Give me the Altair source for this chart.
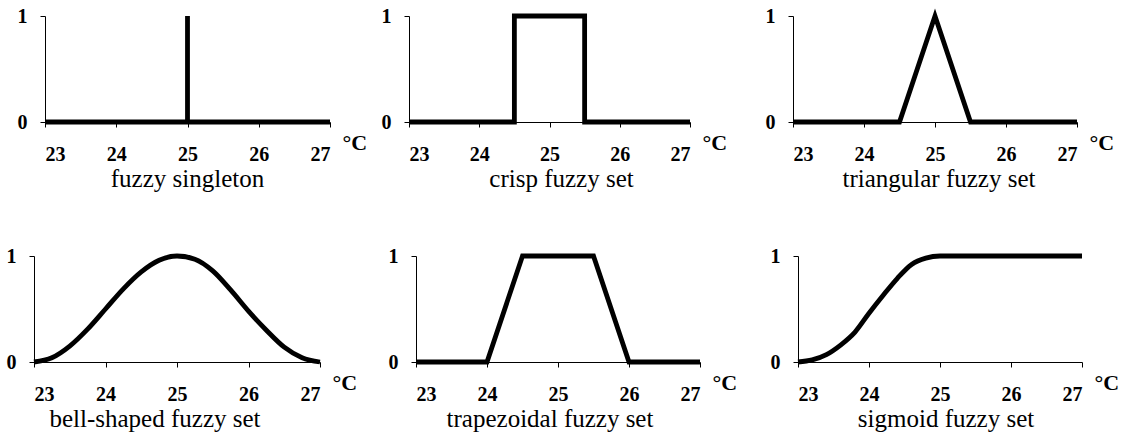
import altair as alt
import pandas as pd

# Membership functions over temperature (°C) -> membership degree
singleton_x = [23, 25, 25, 25, 27]
singleton_y = [0, 0, 1, 0, 0]

crisp_x = [23, 24.5, 24.5, 25.5, 25.5, 27]
crisp_y = [0, 0, 1, 1, 0, 0]

triangular_x = [23, 24.5, 25, 25.5, 27]
triangular_y = [0, 0, 1, 0, 0]

bell_x = [23, 23.25, 23.5, 23.75, 24, 24.25, 24.5, 24.75, 25,
          25.25, 25.5, 25.75, 26, 26.25, 26.5, 26.75, 27]
bell_y = [0, 0.04, 0.15, 0.31, 0.5, 0.69, 0.85, 0.96, 1,
          0.97, 0.86, 0.68, 0.48, 0.3, 0.14, 0.04, 0]

trapezoid_x = [23, 24, 24.5, 25.5, 26, 27]
trapezoid_y = [0, 0, 1, 1, 0, 0]

sigmoid_x = [23, 23.2, 23.4, 23.6, 23.8, 24, 24.2, 24.4, 24.6, 24.8, 25, 27]
sigmoid_y = [0, 0.02, 0.07, 0.16, 0.28, 0.46, 0.63, 0.79, 0.92, 0.98, 1, 1]

x_ticks = [23, 24, 25, 26, 27]
y_ticks = [0, 1]
unit_label = "°C"

SERIF = "Liberation Serif"
PANEL_H = 106

# spacing of tick labels, unit label and caption below each panel
LABEL_PAD = 17
UNIT_Y = 27
CAPTION_OFFSET = 3


def panel(xs, ys, caption, width, interp="linear", caption_dx=0):
    df = pd.DataFrame({"t": xs, "m": ys, "i": list(range(len(xs)))})
    return (
        alt.Chart(
            df,
            title=alt.TitleParams(
                caption, orient="bottom", anchor="middle",
                offset=CAPTION_OFFSET, dx=caption_dx,
                font=SERIF, fontSize=25, fontWeight="normal", color="black",
            ),
        )
        .mark_line(color="black", strokeWidth=4.8, interpolate=interp)
        .encode(
            x=alt.X(
                "t:Q",
                scale=alt.Scale(domain=[23, 27], nice=False, zero=False),
                axis=alt.Axis(
                    values=x_ticks, format="d", title=unit_label,
                    labelPadding=LABEL_PAD,
                    titleX=width + 12, titleY=UNIT_Y, titleAlign="left",
                    titleBaseline="alphabetic", titleAnchor="start",
                ),
            ),
            y=alt.Y(
                "m:Q",
                scale=alt.Scale(domain=[0, 1], nice=False),
                axis=alt.Axis(values=y_ticks, format="d", title=None,
                              labelPadding=13),
            ),
            order=alt.Order("i:Q"),
        )
        .properties(width=width, height=PANEL_H)
    )


spacer = (
    alt.Chart(pd.DataFrame({"v": [0]}))
    .mark_point(opacity=0)
    .encode(x=alt.X("v:Q", axis=None), y=alt.Y("v:Q", axis=None))
    .properties(width=1, height=1)
)

p1 = panel(singleton_x, singleton_y, "fuzzy singleton", 285)
p2 = panel(crisp_x, crisp_y, "crisp fuzzy set", 281, caption_dx=12)
p3 = panel(triangular_x, triangular_y, "triangular fuzzy set", 284, caption_dx=4)
p4 = panel(bell_x, bell_y, "bell-shaped fuzzy set", 286, "monotone", caption_dx=-22)
p5 = panel(trapezoid_x, trapezoid_y, "trapezoidal fuzzy set", 284, caption_dx=-8)
p6 = panel(sigmoid_x, sigmoid_y, "sigmoid fuzzy set", 284, "monotone", caption_dx=6)

top_row = alt.hconcat(
    spacer,
    alt.hconcat(p1, alt.hconcat(p2, p3, spacing=103, bounds="flush"),
                spacing=79, bounds="flush"),
    spacing=10, bounds="flush",
)
bottom_row = alt.hconcat(
    p4, alt.hconcat(p5, p6, spacing=98, bounds="flush"),
    spacing=96, bounds="flush",
)

chart = (
    alt.vconcat(top_row, bottom_row, spacing=240, bounds="flush")
    .properties(padding={"left": 6, "top": 6, "right": 0, "bottom": 0},
                background="white")
    .configure_view(stroke=None)
    .configure_axis(
        grid=False,
        domainColor="black", domainWidth=1,
        tickColor="black", tickSize=5, tickWidth=1,
        labelFont=SERIF, labelFontSize=20, labelFontWeight="bold",
        labelColor="black",
        titleFont=SERIF, titleFontSize=22, titleFontWeight="bold",
        titleColor="black",
    )
)

chart.save("out.html", embed_options={"renderer": "svg", "actions": False})
